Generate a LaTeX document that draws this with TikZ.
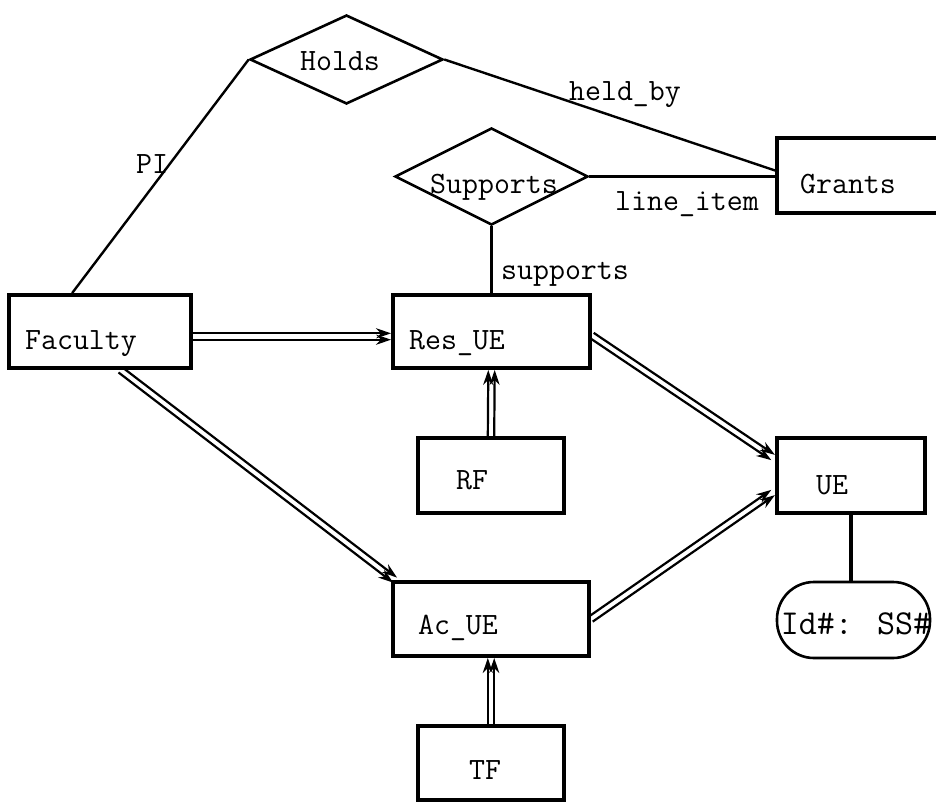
\documentclass[tikz,border=0pt]{standalone}
\usepackage{fontspec}
\usetikzlibrary{shapes.geometric,calc,arrows.meta}
\newcommand\dblarr[2]{%
  \draw[arr] ($(#1)!3.2pt!90:(#2)$) -- ($(#2)!3.2pt!-90:(#1)$);
  \draw[arr] ($(#1)!3.2pt!-90:(#2)$) -- ($(#2)!3.2pt!90:(#1)$);}
\begin{document}
\begin{tikzpicture}[x=1pt,y=-1pt,
  every node/.style={font=\fontsize{31}{37}\selectfont\ttfamily},
  box/.style={draw,line width=3.8pt,inner sep=0pt},
  rel/.style={draw,diamond,line width=2.6pt,inner sep=0pt},
  lbl/.style={inner sep=0pt,anchor=base},
  thin/.style={line width=2.4pt},
  thick/.style={line width=3.6pt},
  arr/.style={line width=2.2pt,-{Stealth[length=15pt,width=10pt]}}]
\useasboundingbox (0,0) rectangle (936,802);
% entities
\node[box,minimum width=182,minimum height=73] (fac) at (100,331.5) {};
\node[box,minimum width=197,minimum height=73] (res) at (491.5,331.5) {};
\node[box,minimum width=146,minimum height=75] (rf) at (491,475.5) {};
\node[box,minimum width=148,minimum height=75] (ue) at (851,475.5) {};
\node[box,minimum width=196,minimum height=74] (ac) at (491,619) {};
\node[box,minimum width=146,minimum height=74] (tf) at (491,763) {};
\node[box,minimum width=163,minimum height=75] (grants) at (858.5,175.5) {};
\node[draw,line width=2.6pt,rounded corners=37pt,minimum width=153,minimum height=76,inner sep=0pt] (id) at (853.5,620) {};
% relationships
\node[rel,minimum width=193,minimum height=89] (holds) at (346.5,59.5) {};
\node[rel,minimum width=193,minimum height=97] (sup) at (491.5,176.5) {};
% texts
\node[lbl] (tfac) at (81,349) {Faculty};
\node[lbl] (tres) at (457,349) {Res\_UE};
\node[lbl] (trf) at (472,489) {RF};
\node[lbl] (tue) at (832,494) {UE};
\node[lbl] (tac) at (458,634) {Ac\_UE};
\node[lbl] (ttf) at (485,779) {TF};
\node[lbl] (tgr) at (848,194) {Grants};
\node[lbl,font=\fontsize{35}{40}\selectfont\ttfamily] (tid) at (856,634) {Id\#: SS\#};
\node[lbl] (tholds) at (340,71) {Holds};
\node[lbl] (tsup) at (494,194) {Supports};
\node[lbl] (tpi) at (152,174) {PI};
\node[lbl] (thb) at (625,101) {held\_by};
\node[lbl] (tli) at (687,211) {line\_item};
\node[lbl] (tsp) at (565,279) {supports};
% anchor coordinates
\coordinate (pistart) at ($(fac.north west)!0.35!(fac.north east)$);
\coordinate (hbend) at ([yshift=5pt]grants.west);
\coordinate (fs) at ($(fac.south west)!0.61!(fac.south east)$);
\coordinate (an) at ([xshift=4pt]ac.north west);
\coordinate (fe) at ([yshift=-5pt]fac.east);
\coordinate (rw) at ([yshift=-5pt]res.west);
\coordinate (re) at ([yshift=-4pt]res.east);
\coordinate (uw1) at ([xshift=-2pt,yshift=18pt]ue.west);
\coordinate (ae) at ([yshift=0pt]ac.east);
\coordinate (uw2) at ([xshift=-2pt,yshift=-17pt]ue.west);
% connectors
\draw[thin] (pistart) -- (holds.west);
\draw[thin] (holds.east) -- (hbend);
\draw[thick] (sup.east) -- (sup.east -| grants.west);
\draw[thin] (sup.south) -- (res.north);
\draw[thick] (ue.south) -- (ue.south |- id.north);
\dblarr{fe}{rw}
\dblarr{fs}{an}
\dblarr{rf.north}{res.south}
\dblarr{tf.north}{ac.south}
\dblarr{re}{uw1}
\dblarr{ae}{uw2}
\end{tikzpicture}
\end{document}
